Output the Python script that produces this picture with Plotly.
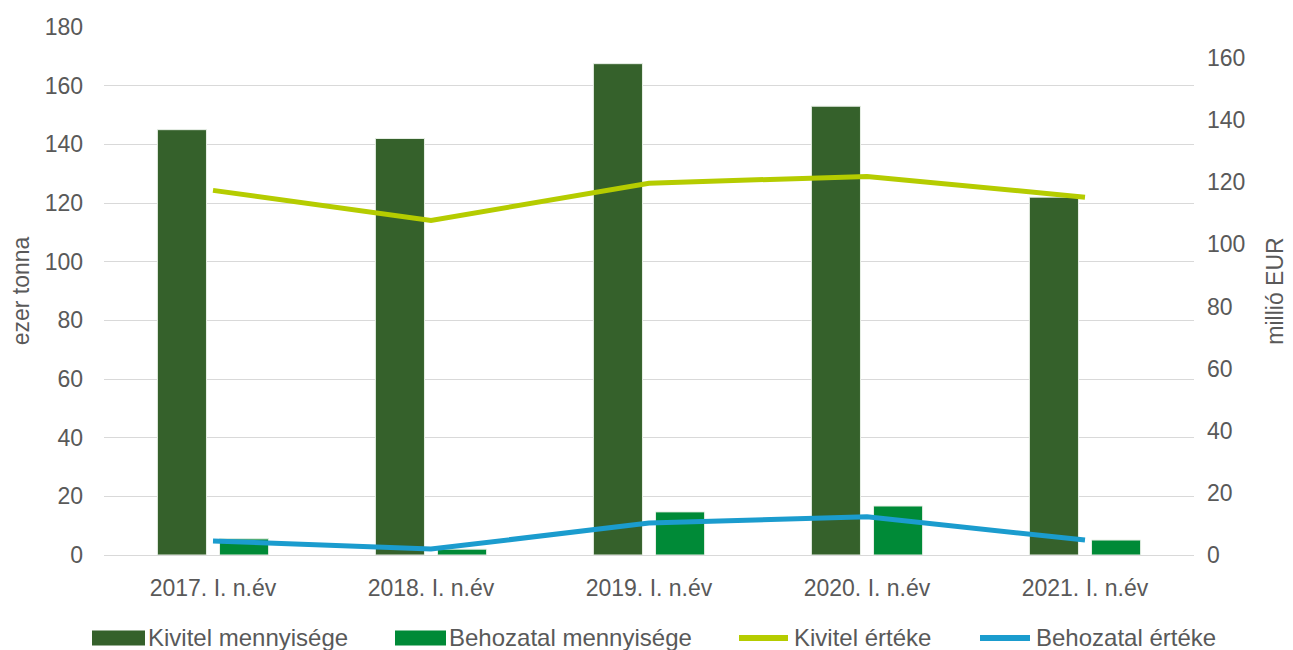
import plotly.graph_objects as go

categories = ["2017. I. n.év", "2018. I. n.év", "2019. I. n.év", "2020. I. n.év", "2021. I. n.év"]
kivitel_menny = [145, 142, 167.5, 153, 122]
behozatal_menny = [5.5, 2, 14.7, 16.7, 5.1]
kivitel_ertek = [117.4, 107.7, 119.7, 121.9, 115.2]
behozatal_ertek = [4.5, 1.9, 10.3, 12.3, 4.8]

series_names = ["Kivitel mennyisége", "Behozatal mennyisége", "Kivitel értéke", "Behozatal értéke"]
colors = ["#35612B", "#008A37", "#B5CC00", "#1B9CCE"]

txt = "#595959"
font = dict(family="Liberation Sans, Arial, sans-serif", size=23, color=txt)
leg_font = dict(family="Liberation Sans, Arial, sans-serif", size=24, color=txt)

# page has an 8px body margin, so the figure is drawn from (8, 8)
OFF = 8
W, H = 1293 - OFF, 650 - OFF
L, R, T, B = 104 - OFF, 99, 27 - OFF, 95
pw, ph = W - L - R, H - T - B

fig = go.Figure()
fig.add_trace(go.Bar(x=categories, y=kivitel_menny, name=series_names[0],
                     marker=dict(color=colors[0], line=dict(color="#e8efe6", width=1))))
fig.add_trace(go.Bar(x=categories, y=behozatal_menny, name=series_names[1],
                     marker=dict(color=colors[1], line=dict(color="#e8efe6", width=1))))
fig.add_trace(go.Scatter(x=categories, y=kivitel_ertek, name=series_names[2], yaxis="y2",
                         mode="lines", line=dict(color=colors[2], width=5)))
fig.add_trace(go.Scatter(x=categories, y=behozatal_ertek, name=series_names[3], yaxis="y2",
                         mode="lines", line=dict(color=colors[3], width=5)))

# custom legend (wide swatches like the original); positions in screen pixels
def px_x(x):
    return (x - OFF - L) / pw

def px_y(y):
    return (H - B - (y - OFF)) / ph

shapes = []
annotations = []
swatch_x = [92, 395, 736, 977]
swatch_w = [53, 51, 55, 56]
kinds = ["rect", "rect", "line", "line"]
leg_y = 638
for name, col, sx, sw, kind in zip(series_names, colors, swatch_x, swatch_w, kinds):
    if kind == "rect":
        shapes.append(dict(type="rect", xref="paper", yref="paper",
                           x0=px_x(sx), x1=px_x(sx + sw), y0=px_y(leg_y + 7.5), y1=px_y(leg_y - 7.5),
                           fillcolor=col, line=dict(width=0)))
    else:
        shapes.append(dict(type="line", xref="paper", yref="paper",
                           x0=px_x(sx + 3), x1=px_x(sx + sw - 3), y0=px_y(leg_y), y1=px_y(leg_y),
                           line=dict(color=col, width=6)))
    annotations.append(dict(text=name, xref="paper", yref="paper", x=px_x(sx + sw + 1),
                            y=px_y(leg_y - 1), xanchor="left", yanchor="middle",
                            showarrow=False, font=leg_font))

fig.update_layout(
    width=W, height=H,
    margin=dict(l=L, r=R, t=T, b=B, autoexpand=False),
    paper_bgcolor="white", plot_bgcolor="white",
    font=font,
    barmode="group", bargap=0.43, bargroupgap=0.21,
    showlegend=False,
    shapes=shapes, annotations=annotations,
    xaxis=dict(showgrid=False, showline=False, ticks="", tickfont=font,
               automargin=False, ticklabelstandoff=17),
    yaxis=dict(range=[0, 180], dtick=20, showgrid=True, gridcolor="#d9d9d9", gridwidth=1,
               zeroline=True, zerolinecolor="#d9d9d9", zerolinewidth=1,
               title=dict(text="ezer tonna", font=font, standoff=8),
               tickfont=font, ticks="", automargin=False, ticklabelstandoff=20),
    yaxis2=dict(range=[0, 170], dtick=20, overlaying="y", side="right", showgrid=False,
                zeroline=False, tickfont=font, automargin=False, ticklabelstandoff=12,
                title=dict(text="millió EUR", font=font, standoff=22)),
)

fig.write_html("out.html")
